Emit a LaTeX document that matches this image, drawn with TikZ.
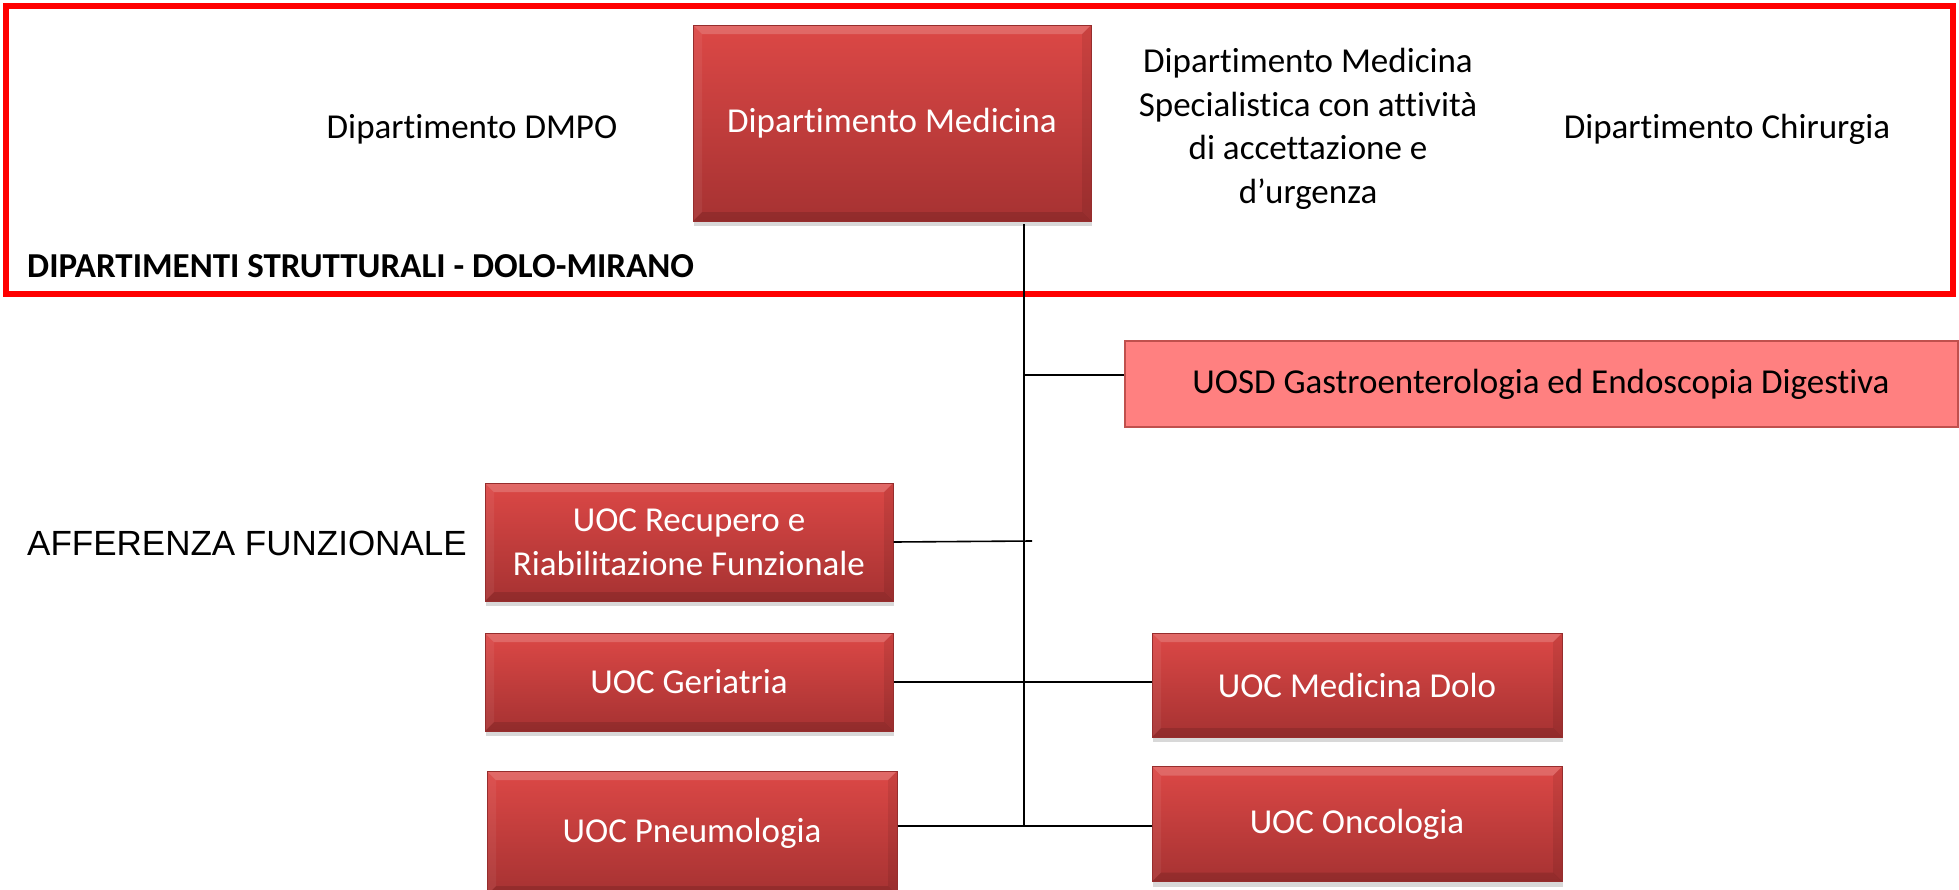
\documentclass[tikz,border=0pt]{standalone}
\usepackage{fontspec}
\setmainfont{Carlito}[Ligatures=NoCommon]
\newfontfamily\helv{Liberation Sans}
\usetikzlibrary{shadows}
\definecolor{boxtop}{RGB}{220,72,70}
\definecolor{boxbot}{RGB}{166,50,50}
\definecolor{boxedge}{RGB}{150,45,45}
\definecolor{pinkfill}{RGB}{255,128,128}
\definecolor{pinkedge}{RGB}{192,80,77}
\definecolor{framered}{RGB}{255,0,0}
\begin{document}
\begin{tikzpicture}[x=1pt,y=-1pt,
  bevel/.style={path picture={
    \fill[white, opacity=0.18] (path picture bounding box.north west) -- (path picture bounding box.north east)
      -- ([xshift=-9pt,yshift=-9pt]path picture bounding box.north east) -- ([xshift=9pt,yshift=-9pt]path picture bounding box.north west) -- cycle;
    \fill[black, opacity=0.12] (path picture bounding box.south west) -- (path picture bounding box.south east)
      -- ([xshift=-9pt,yshift=9pt]path picture bounding box.south east) -- ([xshift=9pt,yshift=9pt]path picture bounding box.south west) -- cycle;
    \fill[black, opacity=0.08] (path picture bounding box.north east) -- (path picture bounding box.south east)
      -- ([xshift=-9pt,yshift=9pt]path picture bounding box.south east) -- ([xshift=-9pt,yshift=-9pt]path picture bounding box.north east) -- cycle;
    \fill[white, opacity=0.06] (path picture bounding box.north west) -- (path picture bounding box.south west)
      -- ([xshift=9pt,yshift=9pt]path picture bounding box.south west) -- ([xshift=9pt,yshift=-9pt]path picture bounding box.north west) -- cycle;
  }},
  redbox/.style={rectangle, top color=boxtop, bottom color=boxbot, draw=boxedge,
    line width=1pt, text=white, align=center, inner sep=0pt, bevel,
    font=\fontsize{35}{43.7}\selectfont,
    drop shadow={opacity=0.3, shadow xshift=1pt, shadow yshift=-5pt}},
  pinkbox/.style={rectangle, fill=pinkfill, draw=pinkedge, line width=2pt,
    text=black, align=center, inner sep=0pt, font=\fontsize{35}{43.7}\selectfont},
  plain/.style={text=black, align=center, inner sep=0pt, font=\fontsize{35}{43.7}\selectfont},
  conn/.style={draw=black, line width=1.6pt}
]
\useasboundingbox (0,0) rectangle (1959,889);
\fill[white] (0,0) rectangle (1959,889);

% frame
\draw[framered, line width=6pt] (6,6) rectangle (1953,294);

% top row
\node[redbox, minimum width=398, minimum height=196] (med) at (892,123) {Dipartimento Medicina};
\node[plain] (dmpo) at (472,129) {Dipartimento DMPO};
\node[plain] (spec) at (1308,129) {Dipartimento Medicina\\Specialistica con attività\\di accettazione e\\d’urgenza};
\node[plain] (chir) at (1727,129) {Dipartimento Chirurgia};
\node[plain, anchor=west, font=\fontsize{35}{43.7}\selectfont\bfseries] (title) at (27,266) {DIPARTIMENTI STRUTTURALI - DOLO-MIRANO};

% lower nodes
\node[pinkbox, minimum width=833, minimum height=86] (uosd) at (1541,384) {UOSD Gastroenterologia ed Endoscopia Digestiva};
\node[plain, anchor=west, font=\fontsize{35}{43.7}\helv] (aff) at (27,543) {AFFERENZA FUNZIONALE};
\node[redbox, minimum width=408, minimum height=118] (rec) at (689,542) {UOC Recupero e\\Riabilitazione Funzionale};
\node[redbox, minimum width=408, minimum height=98] (ger) at (689,682) {UOC Geriatria};
\node[redbox, minimum width=410, minimum height=104] (dolo) at (1357,685) {UOC Medicina Dolo};
\node[redbox, minimum width=410, minimum height=124] (pneu) at (692,833) {UOC Pneumologia};
\node[redbox, minimum width=410, minimum height=115] (onco) at (1357,824) {UOC Oncologia};

% connectors
\coordinate (vtop) at (1024,224);
\coordinate (vbot) at (1024,826);
\coordinate (juosd) at (1024,375);
\coordinate (jrec) at (1032,541);
\draw[conn] (vtop) -- (vbot);
\draw[conn] (juosd) -- (juosd -| uosd.west);
\draw[conn] (rec.east) -- (jrec);
\draw[conn] (ger.east) -- (ger.east -| dolo.west);
\draw[conn] (vbot -| pneu.east) -- (vbot -| onco.west);
\end{tikzpicture}
\end{document}
